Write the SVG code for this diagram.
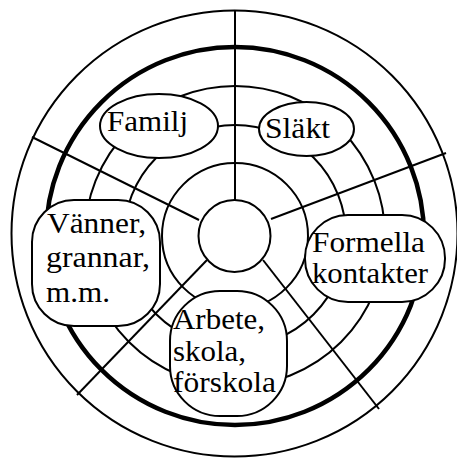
<svg xmlns="http://www.w3.org/2000/svg" width="457" height="459" viewBox="0 0 457 459">
<style>
.ln{fill:none;stroke:#000;stroke-width:2}
.thick{fill:none;stroke:#000;stroke-width:4.5}
.nd{fill:#fff;stroke:#000;stroke-width:2}
text{font-family:'Liberation Serif','Times New Roman',serif;font-size:29px;fill:#000}
</style>
<rect width="457" height="459" fill="#fff"/>
<g id="connectors">
<circle class="ln" cx="234.5" cy="233.5" r="223"/>
<circle class="thick" cx="235" cy="236" r="189"/>
<circle class="ln" cx="235" cy="236" r="150"/>
<circle class="ln" cx="235" cy="236" r="111"/>
<circle class="ln" cx="235" cy="236" r="73"/>
<line class="ln" x1="235" y1="10" x2="235" y2="200"/>
<line class="ln" x1="32" y1="137" x2="199" y2="220"/>
<line class="ln" x1="446" y1="153" x2="271" y2="219"/>
<line class="ln" x1="77" y1="395" x2="207" y2="260"/>
<line class="ln" x1="379" y1="409" x2="263" y2="260"/>
</g>
<g id="center"><circle class="nd" cx="234.5" cy="236" r="36"/></g>
<g id="familj"><ellipse class="nd" cx="159" cy="126" rx="59" ry="32"/><text x="107" y="131" textLength="81" lengthAdjust="spacingAndGlyphs">Familj</text></g>
<g id="slakt"><ellipse class="nd" cx="306.5" cy="129" rx="47.5" ry="27"/><text x="265" y="138" textLength="65" lengthAdjust="spacingAndGlyphs">Släkt</text></g>
<g id="vanner"><rect class="nd" x="32" y="200" width="128" height="126" rx="42" ry="42"/>
<text x="47" y="233" textLength="99" lengthAdjust="spacingAndGlyphs">Vänner,</text><text x="46" y="267" textLength="104" lengthAdjust="spacingAndGlyphs">grannar,</text><text x="46" y="302" textLength="64" lengthAdjust="spacingAndGlyphs">m.m.</text></g>
<g id="formella"><rect class="nd" x="305" y="215" width="140" height="87" rx="43" ry="43"/>
<text x="312" y="252" textLength="113" lengthAdjust="spacingAndGlyphs">Formella</text><text x="312" y="283" textLength="116" lengthAdjust="spacingAndGlyphs">kontakter</text></g>
<g id="arbete"><rect class="nd" x="170" y="291" width="117" height="125" rx="50" ry="50"/>
<text x="173" y="329" textLength="92" lengthAdjust="spacingAndGlyphs">Arbete,</text><text x="173" y="361" textLength="73" lengthAdjust="spacingAndGlyphs">skola,</text><text x="173" y="392" textLength="103" lengthAdjust="spacingAndGlyphs">förskola</text></g>
</svg>
